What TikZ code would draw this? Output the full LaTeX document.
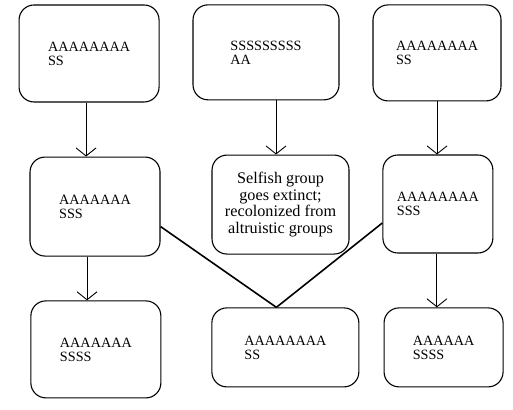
\documentclass[tikz,border=0pt]{standalone}
\usepackage{fontspec}
\setmainfont{Liberation Serif}
\usetikzlibrary{arrows.meta}

\tikzset{
  box/.style={draw, line width=1.1pt, rounded corners=15pt, inner sep=0pt,
    align=left, font=\fontsize{14.2}{14}\selectfont},
  arr/.style={line width=0.9pt, -{Straight Barb[length=8pt,width=20pt]}},
  link/.style={line width=1.6pt}
}

\begin{document}
\begin{tikzpicture}
\useasboundingbox[fill=white] (0,0) rectangle (18.03,14.41);

% top row
\node (tl) at (3.13,12.53) [box, minimum width=140pt, minimum height=97pt] {AAAAAAAA\\SS};
\node (tm) at (9.35,12.57) [box, minimum width=146pt, minimum height=95pt] {SSSSSSSSS\\AA};
\node (tr) at (15.36,12.55) [box, minimum width=128pt, minimum height=96pt] {AAAAAAAA\\SS};

% middle row
\node (ml) at (3.34,7.15) [box, minimum width=130pt, minimum height=99pt] {AAAAAAA\\SSS};
\node (mm) at (9.86,7.22) [box, minimum width=137pt, minimum height=99pt, align=center,
  font=\fontsize{16.2}{16.7}\selectfont] {Selfish group\\goes extinct;\\recolonized from\\altruistic groups};
\node (mr) at (15.39,7.24) [box, minimum width=110pt, minimum height=98pt] {AAAAAAAA\\SSS};

% bottom row
\node (bl) at (3.37,2.13) [box, minimum width=130pt, minimum height=97pt] {AAAAAAA\\SSSS};
\node (bm) at (10.03,2.20) [box, minimum width=147pt, minimum height=79pt] {AAAAAAAA\\SS};
\node (br) at (15.59,2.20) [box, minimum width=119pt, minimum height=79pt] {AAAAAA\\SSSS};

% downward arrows
\draw[arr] ([xshift=-3pt]tl.south) -- ([xshift=-3pt]tl.south |- ml.north);
\draw[arr] ([xshift=10pt]tm.south) -- ([xshift=10pt]tm.south |- mm.north);
\draw[arr] (tr.south) -- (tr.south |- mr.north);
\draw[arr] ([xshift=-8pt]ml.south) -- ([xshift=-8pt]ml.south |- bl.north);
\draw[arr] ([xshift=-1pt]mr.south) -- ([xshift=-1pt]mr.south |- br.north);

% merging lines
\draw[link] ([yshift=-20pt]ml.east) -- ([xshift=-9pt]bm.north);
\draw[link] ([yshift=-19pt]mr.west) -- ([xshift=-9pt]bm.north);

\end{tikzpicture}
\end{document}
